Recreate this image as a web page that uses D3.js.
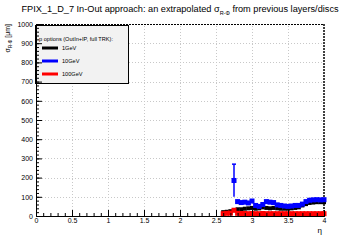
<!DOCTYPE html>
<html>
<head>
<meta charset="utf-8">
<script src="https://cdn.jsdelivr.net/npm/d3@7"></script>
<style>
  body { margin: 0; background: #fff; }
  svg { display: block; font-family: "Liberation Sans", Arial, sans-serif; }
</style>
</head>
<body>
<svg id="chart"></svg>
<script>
// eta bins (centres)
const eta = [2.60, 2.65, 2.70, 2.75, 2.80, 2.85, 2.90, 2.95, 3.00, 3.05, 3.10, 3.15, 3.20, 3.25, 3.30,
             3.35, 3.40, 3.45, 3.50, 3.55, 3.60, 3.65, 3.70, 3.75, 3.80, 3.85, 3.90, 3.95, 4.00];
// sigma R-Phi [um] per momentum
const sigma1GeV   = [20, 22, 25, 30, 35, 35, 38, 40, 42, 38, 40, 45, 42, 40, 42,
                     40, 38, 38, 38, 40, 42, 45, 55, 62, 68, 70, 72, 72, 72];
const sigma10GeV  = [null, null, null, 185, 75, 70, 72, 68, 78, 55, 50, 60, 75, 72, 70,
                     58, 55, 52, 50, 52, 55, 55, 62, 75, 82, 84, 85, 84, 85];
const err10GeV    = [0, 0, 0, 85, 8, 8, 8, 8, 8, 8, 8, 8, 8, 8, 8,
                     8, 8, 8, 8, 8, 8, 8, 8, 8, 8, 8, 8, 8, 8];
const sigma100GeV = [12, 14, 15, 30, 14, 13, 13, 12, 13, 12, 12, 13, 12, 12, 12,
                     12, 12, 12, 12, 12, 12, 12, 12, 12, 12, 12, 12, 12, 12];

const legendLabels = ["1GeV", "10GeV", "100GeV"];
const legendColors = ["#000000", "#0000ff", "#ff0000"];
const legendHeader = "p options (OutIn+IP, full TRK):";

const xMajor = [0, 0.5, 1, 1.5, 2, 2.5, 3, 3.5, 4];
const yMajor = [0, 100, 200, 300, 400, 500, 600, 700, 800, 900, 1000];

const W = 360, H = 240;
const svg = d3.select("#chart").attr("width", W).attr("height", H);

const x = d3.scaleLinear().domain([0, 4]).range([36, 324]);
const y = d3.scaleLinear().domain([0, 1000]).range([216, 24]);

// grid
const grid = svg.append("g").attr("stroke", "#c8c8c8").attr("stroke-width", 1).attr("stroke-dasharray", "1,2");
grid.selectAll("line.gx").data(xMajor.slice(1, -1)).enter().append("line")
  .attr("x1", d => Math.round(x(d)) + 0.5).attr("x2", d => Math.round(x(d)) + 0.5)
  .attr("y1", y(0)).attr("y2", y(1000));
grid.selectAll("line.gy").data(yMajor.slice(1, -1)).enter().append("line")
  .attr("y1", d => Math.round(y(d)) + 0.5).attr("y2", d => Math.round(y(d)) + 0.5)
  .attr("x1", x(0)).attr("x2", x(4));

// frame: top and right dashed
svg.append("line").attr("x1", x(0)).attr("x2", x(4)).attr("y1", y(1000) + 0.5).attr("y2", y(1000) + 0.5)
  .attr("stroke", "#000").attr("stroke-width", 1).attr("stroke-dasharray", "2,1");
svg.append("line").attr("x1", x(4)).attr("x2", x(4)).attr("y1", y(1000)).attr("y2", y(0))
  .attr("stroke", "#000").attr("stroke-width", 1.5).attr("stroke-dasharray", "2,1");

// data series
const drawSeries = (vals, errs, color, size) => {
  const g = svg.append("g").attr("fill", color).attr("stroke", color);
  const pts = eta.map((e, i) => ({ e, v: vals[i], err: errs ? errs[i] : 6 })).filter(d => d.v !== null);
  g.selectAll("line.err").data(pts).enter().append("line")
    .attr("x1", d => x(d.e)).attr("x2", d => x(d.e))
    .attr("y1", d => y(d.v - d.err)).attr("y2", d => y(d.v + d.err))
    .attr("stroke-width", 1.5);
  g.selectAll("line.cap").data(pts.filter(d => d.err > 20)).enter().append("line")
    .attr("x1", d => x(d.e) - 2).attr("x2", d => x(d.e) + 2)
    .attr("y1", d => y(d.v + d.err)).attr("y2", d => y(d.v + d.err))
    .attr("stroke-width", 1.5);
  g.selectAll("rect").data(pts).enter().append("rect")
    .attr("x", d => x(d.e) - size / 2).attr("y", d => y(d.v) - size / 2)
    .attr("width", size).attr("height", size).attr("stroke", "none");
};
drawSeries(sigma1GeV, null, legendColors[0], 4);
drawSeries(sigma10GeV, err10GeV, legendColors[1], 5);
drawSeries(sigma100GeV, null, legendColors[2], 5);

// legend
const lg = svg.append("g");
lg.append("rect").attr("x", 35.5).attr("y", 25.5).attr("width", 93).attr("height", 58)
  .attr("fill", "#f2f2f2").attr("stroke", "#000").attr("stroke-width", 1);
lg.append("text").attr("x", 39).attr("y", 41).attr("font-size", 5.6).text(legendHeader);
legendLabels.forEach((lab, i) => {
  const ly = 48 + i * 13;
  lg.append("line").attr("x1", 42).attr("x2", 58).attr("y1", ly).attr("y2", ly)
    .attr("stroke", legendColors[i]).attr("stroke-width", 3);
  lg.append("text").attr("x", 62).attr("y", ly + 2).attr("font-size", 5.6).text(lab);
});

// axes
const xAxis = d3.axisBottom(x).tickValues(xMajor).tickSize(-6).tickPadding(2)
  .tickFormat(d => String(d));
const xMinor = d3.axisBottom(x).tickValues(d3.range(0, 4.001, 0.1)).tickSize(-3).tickFormat("");
svg.append("g").attr("transform", `translate(0,${y(0)})`).call(xAxis);
svg.append("g").attr("transform", `translate(0,${y(0)})`).call(xMinor);

const yAxis = d3.axisLeft(y).tickValues(yMajor).tickSize(-6).tickPadding(3).tickFormat(d => String(d));
const yMinor = d3.axisLeft(y).tickValues(d3.range(0, 1001, 20)).tickSize(-3).tickFormat("");
svg.append("g").attr("transform", `translate(${x(0)},0)`).call(yAxis);
svg.append("g").attr("transform", `translate(${x(0)},0)`).call(yMinor);

svg.selectAll(".domain").attr("stroke", "#000");
svg.selectAll(".tick line").attr("stroke", "#000");
svg.selectAll(".tick text").attr("font-size", 7).attr("font-family", "Liberation Sans, Arial, sans-serif").attr("fill", "#000");

// axis titles
svg.append("text").attr("x", 322).attr("y", 233).attr("text-anchor", "end").attr("font-size", 8).text("η");
const yt = svg.append("text").attr("transform", "translate(10,24) rotate(-90)")
  .attr("text-anchor", "end").attr("font-size", 7);
yt.append("tspan").text("σ");
yt.append("tspan").attr("font-size", 4.5).attr("dy", 2).text("R-Φ");
yt.append("tspan").attr("dy", -2).text(" [μm]");

// title
const title = svg.append("text").attr("x", 180).attr("y", 12).attr("text-anchor", "middle").attr("font-size", 9.2);
title.append("tspan").text("FPIX_1_D_7 In-Out approach: an extrapolated σ");
title.append("tspan").attr("font-size", 5.5).attr("dy", 2.5).text("R-Φ");
title.append("tspan").attr("dy", -2.5).text(" from previous layers/discs");
</script>
</body>
</html>
